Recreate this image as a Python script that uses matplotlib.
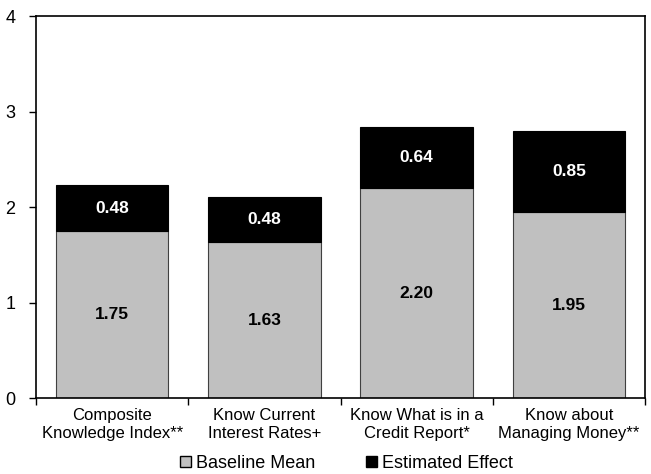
import matplotlib
matplotlib.use("Agg")
import matplotlib.pyplot as plt
from matplotlib.patches import Patch

plt.rcParams['font.family'] = ['Liberation Sans', 'DejaVu Sans']

categories = ["Composite\nKnowledge Index**", "Know Current\nInterest Rates+",
              "Know What is in a\nCredit Report*", "Know about\nManaging Money**"]
baseline = [1.75, 1.63, 2.20, 1.95]
effect = [0.48, 0.48, 0.64, 0.85]

fig = plt.figure(figsize=(6.51, 4.74), dpi=100)
ax = fig.add_axes([0.0553, 0.160, 0.9357, 0.806])

x = list(range(len(categories)))
w = 0.74
ax.bar(x, baseline, width=w, color='#C0C0C0', edgecolor='#404040', linewidth=0.8, zorder=2)
ax.bar(x, effect, width=w, bottom=baseline, color='black', edgecolor='black', linewidth=0.8, zorder=2)

for i in x:
    ax.text(i, baseline[i] / 2, f"{baseline[i]:.2f}", ha='center', va='center',
            fontsize=12.5, fontweight='bold', color='black')
    ax.text(i, baseline[i] + effect[i] / 2, f"{effect[i]:.2f}", ha='center', va='center',
            fontsize=12.5, fontweight='bold', color='white')

ax.set_xlim(-0.5, len(categories) - 0.5)
ax.set_ylim(0, 4)
ax.set_yticks([0, 1, 2, 3, 4])
ax.set_xticks([i - 0.5 for i in range(len(categories) + 1)], minor=False)
ax.set_xticklabels([])
ax.set_xticks(x, minor=True)
ax.set_xticklabels(categories, minor=True, fontsize=12, linespacing=1.25)
ax.tick_params(axis='x', which='minor', length=0, pad=7)
ax.tick_params(axis='x', which='major', length=5, direction='out', width=1)
ax.tick_params(axis='y', length=5, direction='out', width=1, labelsize=13, pad=10)
for s in ax.spines.values():
    s.set_linewidth(1.2)

handles = [Patch(facecolor='#C0C0C0', edgecolor='black', label='Baseline Mean'),
           Patch(facecolor='black', edgecolor='black', label='Estimated Effect')]
fig.legend(handles=handles, loc='center', bbox_to_anchor=(0.532, 0.022), ncol=2,
           frameon=False, fontsize=13, handlelength=0.6, handleheight=0.6,
           handletextpad=0.3, columnspacing=2.8)

fig.savefig("out.png", dpi=100)
